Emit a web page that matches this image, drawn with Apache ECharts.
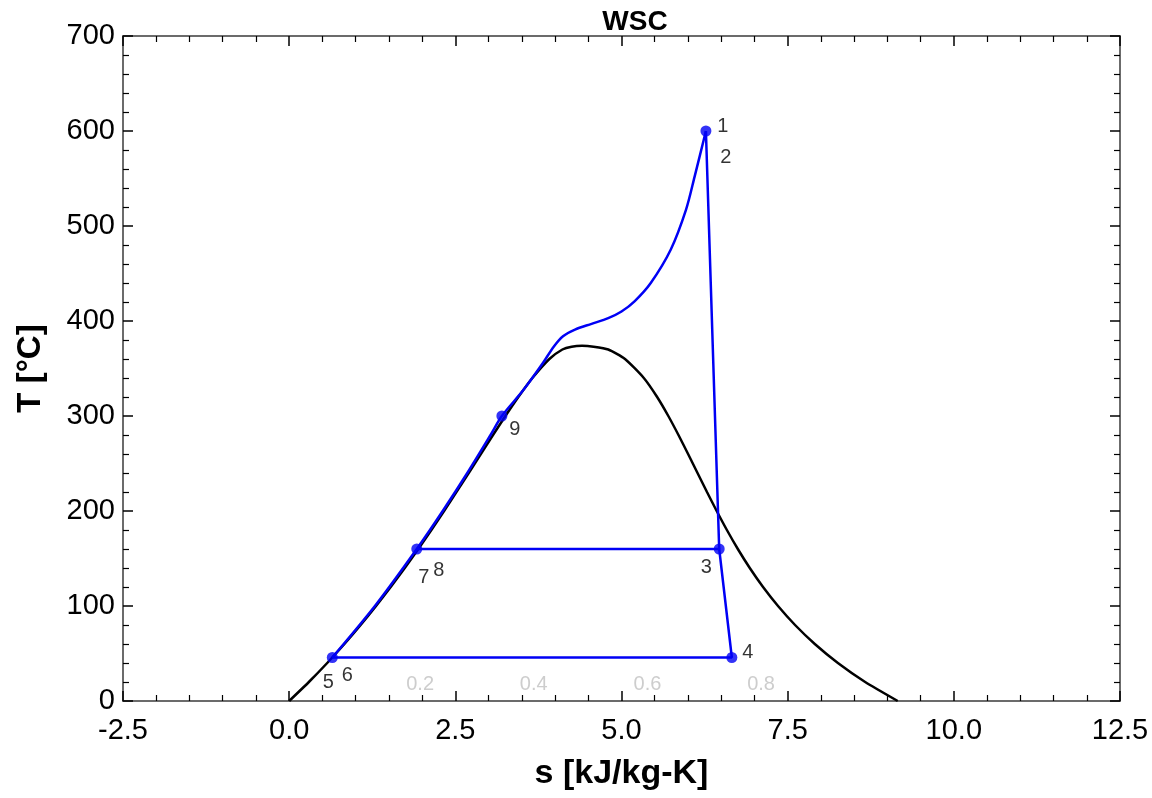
<!DOCTYPE html>
<html>
<head>
<meta charset="utf-8">
<script src="https://cdn.jsdelivr.net/npm/echarts@6/dist/echarts.min.js"></script>
<style>
html,body{margin:0;padding:0;background:#fff;}
#chart{width:1152px;height:798px;}
</style>
</head>
<body>
<div id="chart"></div>
<script>
// ---- Data ----
const chartTitle = 'WSC';
const xAxisName = 's [kJ/kg-K]';
const yAxisName = 'T [°C]';
const xTicks = { min: -2.5, max: 12.5, interval: 2.5 };
const yTicks = { min: 0, max: 700, interval: 100 };

// saturation dome: entropy [kJ/kg-K], temperature [°C]
const domeS = [0.0, 0.2965, 0.5724, 0.8313, 1.0753, 1.3069, 1.5276, 1.7391, 1.9427, 2.1396, 2.3305, 2.5159, 2.7015, 2.8838, 3.0668, 3.2534, 3.448, 3.6594, 3.9147, 4.1106, 4.25, 4.407, 4.58, 4.8012, 5.0526, 5.3357, 5.5362, 5.7045, 5.8571, 6.0019, 6.1437, 6.2861, 6.4323, 6.5857, 6.7502, 6.9299, 7.1296, 7.3549, 7.6111, 7.9082, 8.2557, 8.6661, 9.1556];
const domeT = [0.01, 20, 40, 60, 80, 100, 120, 140, 160, 180, 200, 220, 240, 260, 280, 300, 320, 340, 360, 370, 373, 373.95, 373, 370, 360, 340, 320, 300, 280, 260, 240, 220, 200, 180, 160, 140, 120, 100, 80, 60, 40, 20, 0.01];

// heating curve from state 5 through 7 and 9 to 1
const heatS = [0.649, 1.29, 1.92, 2.31, 2.68, 3.03, 3.20, 3.52, 3.82, 3.98, 4.12, 4.30, 4.55, 4.80, 5.00, 5.20, 5.44, 5.74, 5.97, 6.10, 6.27];
const heatT = [45.8, 100, 160, 200, 240, 280, 300, 327, 356, 373, 384, 391, 397, 403, 410, 421, 440, 475, 517, 552, 600];

// state points
const stateNames = ['1', '2', '3', '4', '5', '6', '7', '8', '9'];
const stateS = [6.27, 6.27, 6.47, 6.66, 0.649, 0.649, 1.92, 1.92, 3.20];
const stateT = [600, 600, 160, 45.8, 45.8, 45.8, 160, 160, 300];

// straight processes (state name sequences)
const expansionPath = ['1', '3', '4', '5'];
const processHeatPath = ['8', '3'];

// quality labels
const qualityLabels = ['0.2', '0.4', '0.6', '0.8'];
const qualityS = [1.97, 3.68, 5.39, 7.10];
const qualityT = [17.9, 17.9, 17.9, 17.9];

// ---- Styles ----
const labelOffsets = {
  '1': [17, -5], '2': [20, 26], '3': [-13, 18], '4': [16, -5],
  '5': [-4, 25], '6': [15, 18], '7': [7, 28], '8': [22, 21], '9': [13, 13]
};
const blue = '#0000f5';
const frameColor = '#6b6b6b';

function idx(n) { return stateNames.indexOf(n); }
const pt = n => [stateS[idx(n)], stateT[idx(n)]];

const dome = domeS.map((s, i) => [s, domeT[i]]);
const heat = heatS.map((s, i) => [s, heatT[i]]);
const markerNames = ['1', '3', '4', '5', '7', '9'];

const baseAxisLine = { show: true, onZero: false, lineStyle: { color: frameColor, width: 2 } };
const tickCommon = { show: true, inside: true, length: 10, lineStyle: { color: '#000', width: 1.5 } };
const minorCommon = { show: true, splitNumber: 5, length: 6, lineStyle: { color: '#000', width: 1.2 } };

const option = {
  animation: false,
  backgroundColor: '#fff',
  title: {
    text: chartTitle, left: 630, top: 3, textAlign: 'center',
    textStyle: { fontFamily: 'Liberation Sans', fontWeight: 'bold', fontSize: 28, color: '#000' }
  },
  grid: { left: 123, right: 32, top: 36, bottom: 97 },
  xAxis: [
    {
      type: 'value', position: 'bottom', min: xTicks.min, max: xTicks.max, interval: xTicks.interval,
      name: xAxisName, nameLocation: 'middle', nameGap: 56,
      nameTextStyle: { fontFamily: 'Liberation Sans', fontWeight: 'bold', fontSize: 34, color: '#000' },
      axisLine: baseAxisLine, axisTick: tickCommon, minorTick: minorCommon,
      splitLine: { show: false },
      axisLabel: { fontFamily: 'Liberation Sans', fontSize: 29, color: '#000', margin: 15,
        formatter: v => v.toFixed(1) }
    },
    {
      type: 'value', position: 'top', min: xTicks.min, max: xTicks.max, interval: xTicks.interval,
      axisLine: baseAxisLine, axisTick: tickCommon, minorTick: minorCommon,
      splitLine: { show: false }, axisLabel: { show: false }
    }
  ],
  yAxis: [
    {
      type: 'value', position: 'left', min: yTicks.min, max: yTicks.max, interval: yTicks.interval,
      name: yAxisName, nameLocation: 'middle', nameGap: 76, nameRotate: 90,
      nameTextStyle: { fontFamily: 'Liberation Sans', fontWeight: 'bold', fontSize: 33, color: '#000' },
      axisLine: baseAxisLine, axisTick: tickCommon, minorTick: minorCommon,
      splitLine: { show: false },
      axisLabel: { fontFamily: 'Liberation Sans', fontSize: 29, color: '#000', margin: 8 }
    },
    {
      type: 'value', position: 'right', min: yTicks.min, max: yTicks.max, interval: yTicks.interval,
      axisLine: baseAxisLine, axisTick: tickCommon, minorTick: minorCommon,
      splitLine: { show: false }, axisLabel: { show: false }
    }
  ],
  series: [
    {
      type: 'line', data: dome, showSymbol: false, smooth: 0.2,
      lineStyle: { color: '#000', width: 2.5 }, z: 2
    },
    {
      type: 'line', data: heat, showSymbol: false, smooth: 0.3,
      lineStyle: { color: blue, width: 2.5 }, z: 3
    },
    {
      type: 'line', data: expansionPath.map(pt), showSymbol: false,
      lineStyle: { color: blue, width: 2.5 }, z: 3
    },
    {
      type: 'line', data: processHeatPath.map(pt), showSymbol: false,
      lineStyle: { color: blue, width: 2.5 }, z: 3
    },
    {
      type: 'scatter', data: markerNames.map(pt), symbol: 'circle', symbolSize: 11,
      itemStyle: { color: blue }, z: 4
    },
    {
      type: 'scatter', symbolSize: 0, z: 5, itemStyle: { color: 'transparent' },
      data: stateNames.map(n => ({
        value: pt(n),
        label: { show: true, formatter: n, position: 'inside', offset: labelOffsets[n],
          fontFamily: 'Liberation Sans', fontSize: 20, color: '#000', textBorderWidth: 0 }
      }))
    },
    {
      type: 'scatter', symbolSize: 0, z: 5, itemStyle: { color: 'transparent' },
      data: qualityLabels.map((q, i) => ({
        value: [qualityS[i], qualityT[i]],
        label: { show: true, formatter: q, position: 'inside',
          fontFamily: 'Liberation Sans', fontSize: 20, color: '#c0c0c0', textBorderWidth: 0 }
      }))
    }
  ]
};

const chart = echarts.init(document.getElementById('chart'), null, { renderer: 'canvas' });
chart.setOption(option);
</script>
</body>
</html>
